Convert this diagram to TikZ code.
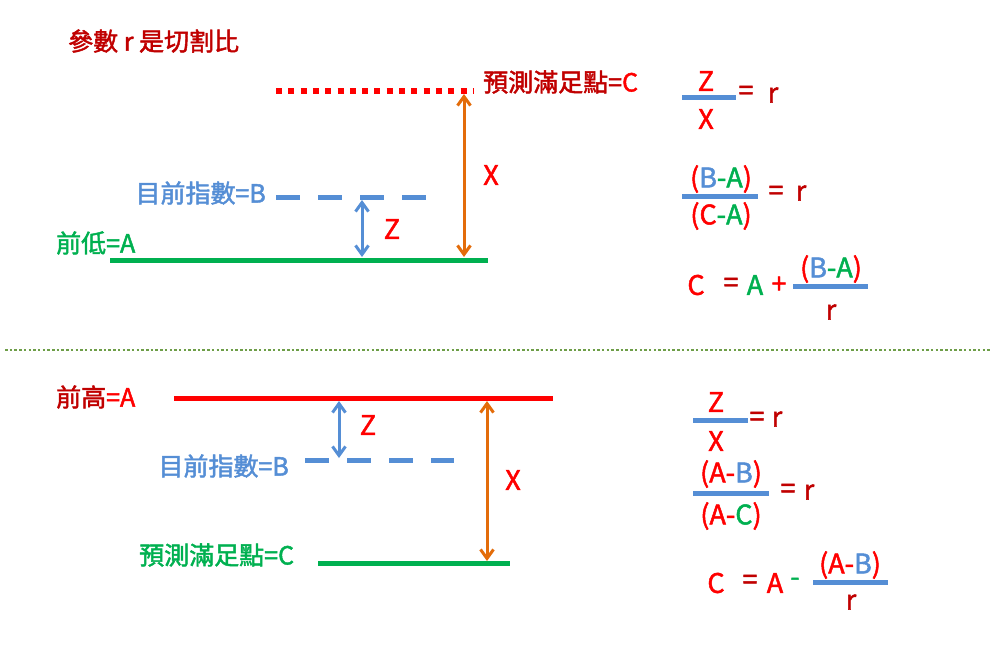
\documentclass[tikz,border=0pt]{standalone}
\usepackage{fontspec}
\setmainfont{Noto Sans CJK TC}[FakeBold=1.8]
\usetikzlibrary{arrows.meta}

% colour switches for the mixed-colour labels
\newcommand{\cR}[1]{\textcolor{colR}{#1}}
\newcommand{\cD}[1]{\textcolor{colD}{#1}}
\newcommand{\cG}[1]{\textcolor{colG}{#1}}
\newcommand{\cB}[1]{\textcolor{colB}{#1}}

\begin{document}
\begin{tikzpicture}[
    x=1pt, y=-1pt,
    lbl/.style={inner sep=0pt, font=\fontsize{25}{28}\selectfont},
    fml/.style={inner sep=0pt, font=\fontsize{27}{30}\selectfont},
    level/.style={line width=5pt},
    dashlevel/.style={line width=5pt, dash pattern=on 24pt off 18pt},
    gap/.style={line width=3pt,
        {Straight Barb[length=9pt,width=13pt]}-{Straight Barb[length=9pt,width=13pt]}},
    fracbar/.style={draw=colB, line width=5pt}
]

% ============================
% COLOR DEFINITIONS
% ============================
\definecolor{colR}{HTML}{FF0000}     % bright red
\definecolor{colD}{HTML}{C00000}     % dark red
\definecolor{colG}{HTML}{00B050}     % green
\definecolor{colB}{HTML}{558ED5}     % blue
\definecolor{colO}{HTML}{E36C0A}     % orange
\definecolor{colSep}{HTML}{6E9E48}   % separator green

\useasboundingbox (0,0) rectangle (992,654);

\node[lbl, anchor=west, text=colD] (title) at (68,41) {參數 r 是切割比};

% ============================
% TOP: rising case
% ============================

% --- level C (dotted) ---
\draw[colR, line width=6pt, dash pattern=on 6pt off 6.3pt] (276,91) -- (473,91);
\node[lbl, anchor=west] (cTopLbl) at (483,82) {\cD{預測滿足點=}\cR{C}};

% --- level B (dashed) ---
\draw[colB, dashlevel] (276,197) -- (426,197);
\node[lbl, anchor=east, text=colB] (bTopLbl) at (266,193) {目前指數=B};

% --- level A ---
\draw[colG, level] (110,260) -- (488,260);
\node[lbl, anchor=west, text=colG] (aTopLbl) at (56,243) {前低=A};

% --- gaps ---
\coordinate (xTopHi) at (464,94);
\coordinate (xTopLo) at (464,257);
\draw[colO, gap] (xTopHi) -- (xTopLo);
\node[fml, text=colR] (xTop) at (491,175) {X};

\coordinate (zTopHi) at (362,200);
\coordinate (zTopLo) at (362,257);
\draw[colB, gap] (zTopHi) -- (zTopLo);
\node[fml, text=colR] (zTop) at (392,229) {Z};

% --- formulas ---
\node[fml, text=colR] (f1Num) at (706,81) {Z};
\draw[fracbar] (682,97) -- (736,97);
\node[fml, text=colR] (f1Den) at (706,119) {X};
\node[fml, text=colD] (f1Eq) at (746,93) {=};
\node[fml, text=colD] (f1R) at (773,95) {r};

\node[fml] (f2Num) at (721,179) {\cR{(}\cB{B}\cG{-A}\cR{)}};
\draw[fracbar] (682,196) -- (758,196);
\node[fml] (f2Den) at (721,216) {\cR{(C}\cG{-A}\cR{)}};
\node[fml, text=colD] (f2Eq) at (776,193) {=};
\node[fml, text=colD] (f2R) at (801,193) {r};

\node[fml, text=colR] (f3C) at (696,285) {C};
\node[fml, text=colD] (f3Eq) at (731,285) {=};
\node[fml, text=colG] (f3A) at (755,285) {A};
\node[fml, text=colR] (f3Plus) at (779,285) {+};
\node[fml] (f3Num) at (831,269) {\cR{(}\cB{B}\cG{-A}\cR{)}};
\draw[fracbar] (793,286) -- (868,286);
\node[fml, text=colD] (f3R) at (831,312) {r};

% ============================
% SEPARATOR
% ============================
\draw[colSep, line width=2.5pt, dash pattern=on 2.5pt off 2.2pt] (5,350) -- (990,350);

% ============================
% BOTTOM: falling case
% ============================

% --- level A ---
\draw[colR, level] (174,398) -- (553,398);
\node[lbl, anchor=west] (aBotLbl) at (56,397) {\cD{前高}\cR{=A}};

% --- level B (dashed) ---
\draw[colB, dashlevel] (305,460) -- (454,460);
\node[lbl, anchor=east, text=colB] (bBotLbl) at (289,466) {目前指數=B};

% --- level C ---
\draw[colG, level] (318,563) -- (510,563);
\node[lbl, anchor=west, text=colG] (cBotLbl) at (139,555) {預測滿足點=C};

% --- gaps ---
\coordinate (zBotHi) at (339,401);
\coordinate (zBotLo) at (339,458);
\draw[colB, gap] (zBotHi) -- (zBotLo);
\node[fml, text=colR] (zBot) at (368,425) {Z};

\coordinate (xBotHi) at (487,401);
\coordinate (xBotLo) at (487,561);
\draw[colO, gap] (xBotHi) -- (xBotLo);
\node[fml, text=colR] (xBot) at (513,480) {X};

% --- formulas ---
\node[fml, text=colR] (g1Num) at (716,402) {Z};
\draw[fracbar] (693,420) -- (748,420);
\node[fml, text=colR] (g1Den) at (716,441) {X};
\node[fml, text=colD] (g1Eq) at (757,419) {=};
\node[fml, text=colD] (g1R) at (777,419) {r};

\node[fml] (g2Num) at (731,474) {\cR{(A-}\cB{B}\cR{)}};
\draw[fracbar] (693,493) -- (769,493);
\node[fml] (g2Den) at (731,516) {\cR{(A-}\cG{C}\cR{)}};
\node[fml, text=colD] (g2Eq) at (788,491) {=};
\node[fml, text=colD] (g2R) at (809,492) {r};

\node[fml, text=colR] (g3C) at (716,583) {C};
\node[fml, text=colD] (g3Eq) at (750,582) {=};
\node[fml, text=colR] (g3A) at (775,583) {A};
\node[fml, text=colG] (g3Minus) at (795,582) {-};
\node[fml] (g3Num) at (850,565) {\cR{(A-}\cB{B}\cR{)}};
\draw[fracbar] (813,582) -- (888,582);
\node[fml, text=colD] (g3R) at (851,602) {r};

\end{tikzpicture}
\end{document}
